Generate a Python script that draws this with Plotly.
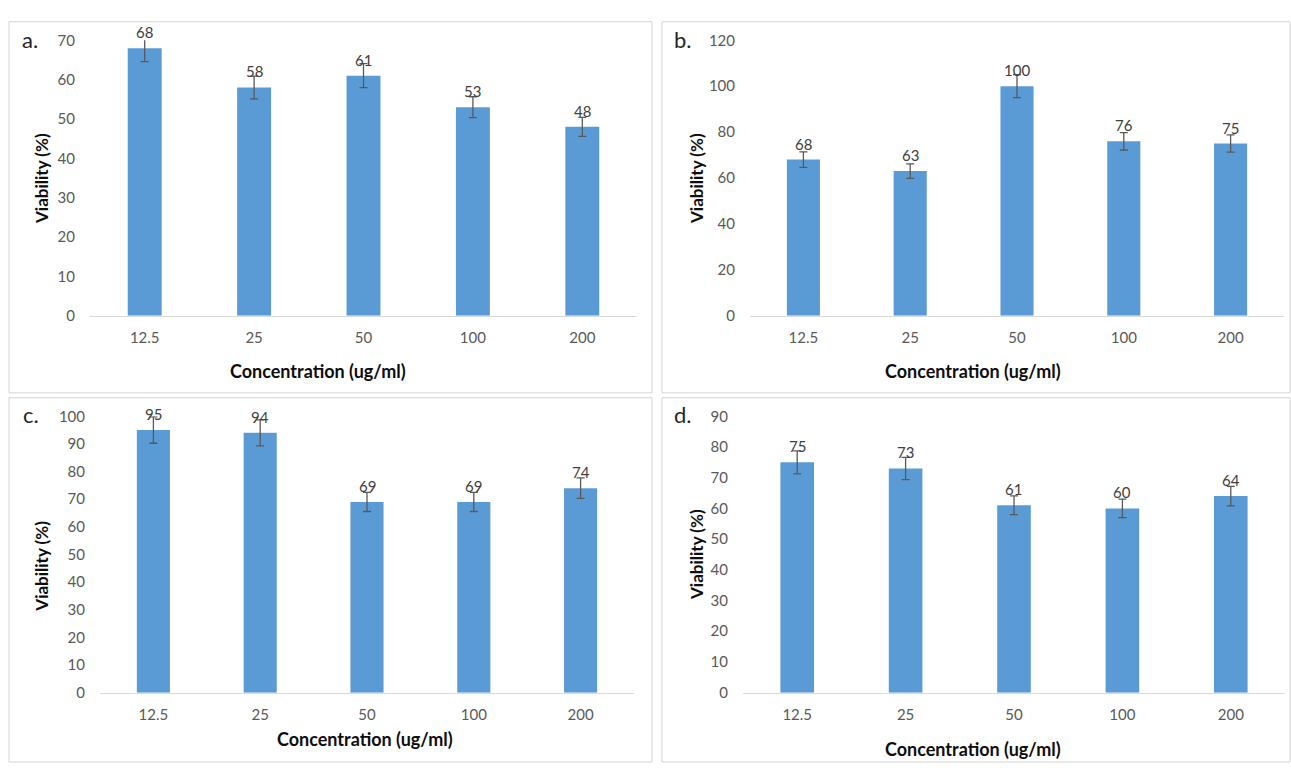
import plotly.graph_objects as go

# Concentrations tested (ug/ml), shared by all four panels
concentrations = ["12.5", "25", "50", "100", "200"]

# Cell viability (%) per panel
viability_a = [68, 58, 61, 53, 48]
viability_b = [68, 63, 100, 76, 75]
viability_c = [95, 94, 69, 69, 74]
viability_d = [75, 73, 61, 60, 64]

# Error bar half-lengths (%)
error_a = [3.4, 2.9, 3.05, 2.65, 2.4]
error_b = [3.4, 3.15, 5.0, 3.8, 3.75]
error_c = [4.75, 4.7, 3.45, 3.45, 3.7]
error_d = [3.75, 3.65, 3.05, 3.0, 3.2]

# Y-axis maxima and tick steps
y_max = [70, 120, 100, 90]
y_step = [10, 20, 10, 10]
panel_labels = ["a.", "b.", "c.", "d."]

W, H = 1291, 770
BAR = "#5B9BD5"
FONT = "Lato"


def px_x(x):
    return x / W


def px_y(y):
    return 1 - y / H


# plot areas in pixels: (left, right, top, bottom)
areas = [
    (90, 637, 31, 313),
    (750, 1284, 31, 313),
    (100, 634, 416, 699),
    (743, 1285, 416, 699),
]
# panel frames in pixels: (left, top, right, bottom)
frames = [
    (9, 12, 652, 392),
    (662, 12, 1290, 392),
    (9, 397, 652, 770),
    (662, 397, 1290, 770),
]
# positions of text elements in pixels
label_pos = [(20, 30), (672, 30), (21, 414), (672, 414)]
ytitle_pos = [(42, 173), (697, 173), (42, 570), (697, 558)]
xtitle_pos = [(318, 370), (973, 370), (365, 746), (973, 757)]

values = [viability_a, viability_b, viability_c, viability_d]
errors = [error_a, error_b, error_c, error_d]

fig = go.Figure()
annotations = []
shapes = []

for i in range(4):
    n = "" if i == 0 else str(i + 1)
    xa, ya = "x" + n, "y" + n
    left, right, top, bottom = areas[i]

    fig.add_trace(go.Bar(
        x=concentrations, y=values[i], xaxis=xa, yaxis=ya,
        marker=dict(color=BAR, line=dict(width=0)),
        error_y=dict(type="data", array=errors[i], color="#595959",
                     thickness=1.3, width=4),
        showlegend=False, hoverinfo="x+y",
    ))

    fig.update_layout({
        "xaxis" + n: dict(
            domain=[px_x(left), px_x(right)], anchor=ya, type="category",
            categoryorder="array", categoryarray=concentrations,
            range=[-0.5, len(concentrations) - 0.5],
            showline=True, linecolor="#D9D9D9", linewidth=1,
            showgrid=False, zeroline=False, ticks="",
            tickfont=dict(family=FONT, size=15, color="#595959"),
            ticklabelstandoff=8, fixedrange=True,
        ),
        "yaxis" + n: dict(
            domain=[px_y(bottom), px_y(top)], anchor=xa,
            range=[0, y_max[i]], dtick=y_step[i], tick0=0,
            showline=False, showgrid=False, zeroline=False, ticks="",
            tickfont=dict(family=FONT, size=15, color="#595959"),
            ticklabelstandoff=14, fixedrange=True,
        ),
    })

    # value labels above each bar (x given as category position)
    for j, v in enumerate(values[i]):
        annotations.append(dict(
            x=j, y=v, xref=xa, yref=ya, text=str(v), showarrow=False,
            yanchor="middle", yshift=16,
            font=dict(family=FONT, size=15, color="#404040"),
        ))

    # panel letter
    lx, ly = label_pos[i]
    annotations.append(dict(
        x=px_x(lx), y=px_y(ly), xref="paper", yref="paper",
        text=panel_labels[i], showarrow=False, xanchor="left", yanchor="middle",
        font=dict(family=FONT, size=22, color="#262626"),
    ))

    # axis titles
    tx, ty = ytitle_pos[i]
    annotations.append(dict(
        x=px_x(tx), y=px_y(ty), xref="paper", yref="paper",
        text="<b>Viability (%)</b>", showarrow=False, textangle=-90,
        xanchor="center", yanchor="middle",
        font=dict(family=FONT, size=17, color="#0D0D0D"),
    ))
    tx, ty = xtitle_pos[i]
    annotations.append(dict(
        x=px_x(tx), y=px_y(ty), xref="paper", yref="paper",
        text="<b>Concentration (ug/ml)</b>", showarrow=False,
        xanchor="center", yanchor="middle",
        font=dict(family=FONT, size=18, color="#0D0D0D"),
    ))

    # panel frame
    fl, ft, fr, fb = frames[i]
    shapes.append(dict(
        type="rect", xref="paper", yref="paper",
        x0=px_x(fl), x1=px_x(fr), y0=px_y(fb), y1=px_y(ft),
        line=dict(color="#D4D4D4", width=1), layer="below",
    ))

fig.update_layout(
    width=W, height=H,
    margin=dict(l=0, r=0, t=0, b=0),
    paper_bgcolor="white", plot_bgcolor="white",
    bargap=0.69,
    annotations=annotations, shapes=shapes,
    font=dict(family=FONT),
)

fig.write_html("out.html", config={"displayModeBar": False})
